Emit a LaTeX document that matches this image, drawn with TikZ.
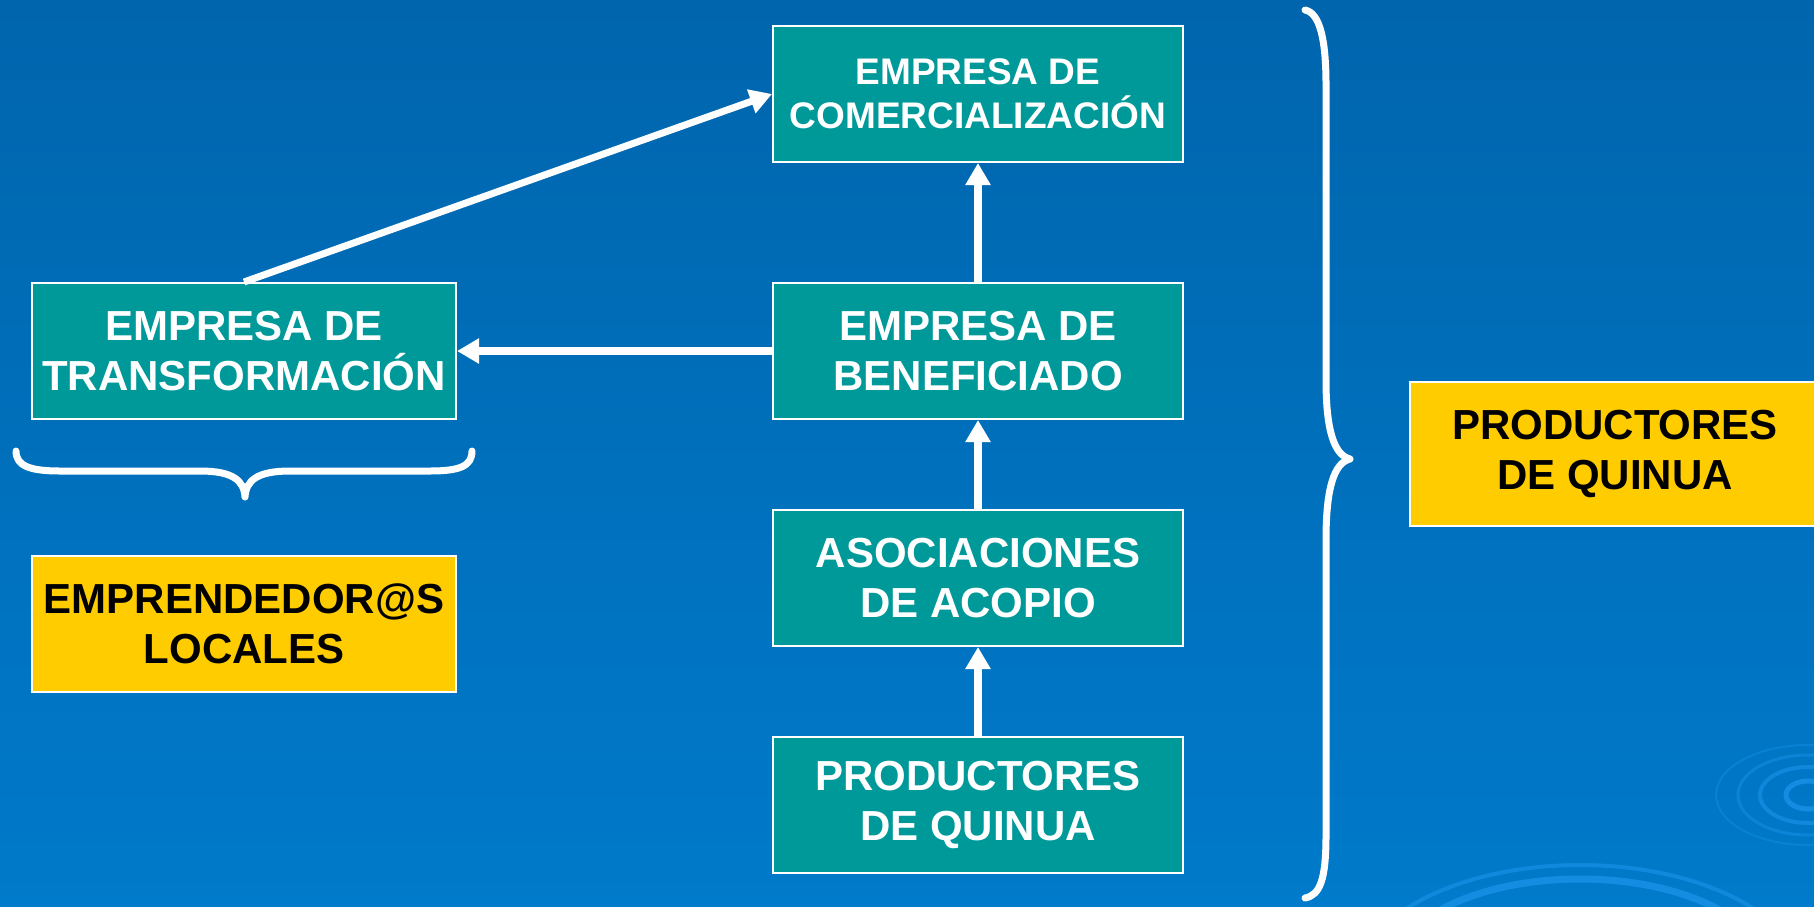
\documentclass[tikz,border=0pt]{standalone}
\usepackage{fontspec}
\setmainfont{Liberation Sans}
\usetikzlibrary{arrows.meta}
\definecolor{bgtop}{RGB}{0,101,173}
\definecolor{bgbot}{RGB}{0,122,202}
\definecolor{tealbox}{RGB}{0,153,153}
\definecolor{yelbox}{RGB}{255,204,0}
\definecolor{ripple}{RGB}{20,140,225}
\tikzset{
  stagebox/.style={draw=white, line width=2pt, fill=tealbox, text=white, align=center,
    minimum width=408pt, minimum height=136pt, inner sep=0pt,
    font=\fontsize{42}{50}\selectfont\bfseries},
  notebox/.style={draw=white, line width=2pt, fill=yelbox, text=black, align=center,
    minimum width=424pt, minimum height=136pt, inner sep=0pt,
    font=\fontsize{42}{50}\selectfont\bfseries},
  flow/.style={draw=white, line width=8pt, -{Triangle[width=24pt,length=22pt]}},
  bracestroke/.style={draw=white, line width=7pt, line cap=round, line join=round},
}
\begin{document}
\begin{tikzpicture}[x=1pt,y=-1pt]
\shade[top color=bgtop, bottom color=bgbot] (0,0) rectangle (1814,906);
\useasboundingbox (0,0) rectangle (1814,906);
% decorative ripples
\begin{scope}
\clip (0,0) rectangle (1814,906);
\draw[ripple, line width=5pt] (1808,795) ellipse (22pt and 14pt);
\draw[ripple, line width=4pt, opacity=0.8] (1808,795) ellipse (48pt and 28pt);
\draw[ripple, line width=3pt, opacity=0.6] (1808,795) ellipse (70pt and 40pt);
\draw[ripple, line width=2pt, opacity=0.5] (1808,795) ellipse (92pt and 50pt);
\draw[ripple, line width=7pt] (1580,975) ellipse (190pt and 96pt);
\draw[ripple, line width=4pt, opacity=0.8] (1580,985) ellipse (225pt and 120pt);
\end{scope}
% nodes
\node[stagebox, minimum width=410pt, font=\fontsize{37}{44}\selectfont\bfseries] (com) at (978,94) {EMPRESA DE\\COMERCIALIZACIÓN};
\node[stagebox, minimum width=410pt] (ben) at (978,351) {EMPRESA DE\\BENEFICIADO};
\node[stagebox, minimum width=410pt] (aso) at (978,578) {ASOCIACIONES\\DE ACOPIO};
\node[stagebox, minimum width=410pt] (pro) at (978,805) {PRODUCTORES\\DE QUINUA};
\node[stagebox, minimum width=424pt] (tra) at (244,351) {EMPRESA DE\\TRANSFORMACIÓN};
\node[notebox] (emp) at (244,624) {EMPRENDEDOR@S\\LOCALES};
\node[notebox, minimum width=420pt, minimum height=144pt, anchor=west] (pq) at (1409,454) {\hspace*{-10pt}PRODUCTORES\\\hspace*{-10pt}DE QUINUA};
% connectors
\draw[flow] (pro.north) -- (aso.south);
\draw[flow] (aso.north) -- (ben.south);
\draw[flow] (ben.north) -- (com.south);
\draw[flow] (ben.west) -- (tra.east);
\draw[flow, line width=7pt] (tra.north) -- (com.west);
% braces
\draw[bracestroke] (16,451) .. controls (16,466) and (30,471) .. (60,471) -- (200,471)
  .. controls (232,471) and (244,480) .. (245,497)
  .. controls (246,480) and (258,471) .. (290,471) -- (430,471)
  .. controls (460,471) and (472,466) .. (472,451);
\draw[bracestroke] (1305,10) .. controls (1320,13) and (1326,40) .. (1326,85) -- (1326,380)
  .. controls (1326,430) and (1334,455) .. (1350,459)
  .. controls (1334,463) and (1326,488) .. (1326,540) -- (1326,835)
  .. controls (1326,880) and (1320,895) .. (1305,898);
\end{tikzpicture}
\end{document}
